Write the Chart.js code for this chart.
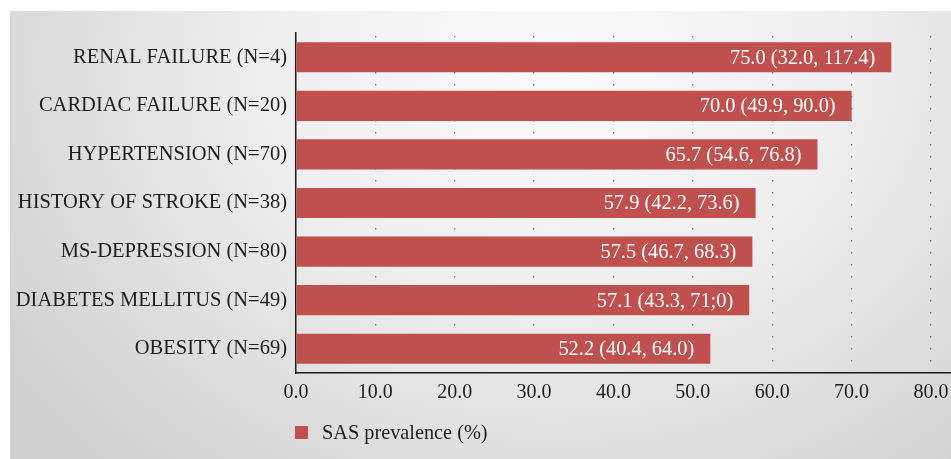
<!DOCTYPE html>
<html lang="en">
<head>
    <meta charset="UTF-8">
    <title>SAS prevalence by comorbidity</title>
    <script src="https://cdn.jsdelivr.net/npm/chart.js@4.4.0/dist/chart.umd.min.js"></script>
    <style>
        body {
            margin: 0;
            background: #fff;
            font-family: "Liberation Serif", serif;
        }
        #panel {
            position: absolute;
            left: 10px;
            top: 11px;
            width: 941px;
            height: 448px;
            background: radial-gradient(ellipse 70% 120% at 58% 12%, #fbfbfb 0%, #eeeeee 45%, #d1d0d0 100%);
        }
        #chartBox {
            position: absolute;
            left: 0;
            top: 0;
            width: 941px;
            height: 448px;
        }
        #legend {
            position: absolute;
            left: 285px;
            top: 410px;
            display: flex;
            align-items: center;
            font-size: 20.3px;
            color: #1e1e1e;
        }
        #legend .swatch {
            width: 13px;
            height: 13px;
            background: #C0504D;
            margin-right: 14px;
        }
    </style>
</head>
<body>
<div id="panel">
    <div id="chartBox"><canvas id="sasChart"></canvas></div>
    <div id="legend"><span class="swatch"></span><span>SAS prevalence (%)</span></div>
</div>

<script>
    // Data
    const categories = [
        'RENAL FAILURE (N=4)',
        'CARDIAC FAILURE (N=20)',
        'HYPERTENSION (N=70)',
        'HISTORY OF STROKE (N=38)',
        'MS-DEPRESSION (N=80)',
        'DIABETES MELLITUS (N=49)',
        'OBESITY (N=69)'
    ];
    const prevalence = [75.0, 70.0, 65.7, 57.9, 57.5, 57.1, 52.2];
    const ciLabels = [
        '75.0 (32.0, 117.4)',
        '70.0 (49.9, 90.0)',
        '65.7 (54.6, 76.8)',
        '57.9 (42.2, 73.6)',
        '57.5 (46.7, 68.3)',
        '57.1 (43.3, 71;0)',
        '52.2 (40.4, 64.0)'
    ];
    const xTicks = [0, 10, 20, 30, 40, 50, 60, 70, 80];

    const barColor = '#C0504D';
    const fontFamily = '"Liberation Serif", serif';

    // Writes the value + CI text inside each bar
    const barLabels = {
        id: 'barLabels',
        afterDatasetsDraw(chart) {
            const ctx = chart.ctx;
            const meta = chart.getDatasetMeta(0);
            ctx.save();
            ctx.font = '20.4px ' + fontFamily;
            ctx.fillStyle = '#ffffff';
            ctx.textAlign = 'right';
            ctx.textBaseline = 'middle';
            meta.data.forEach((bar, i) => {
                ctx.fillText(ciLabels[i], bar.x - 16, bar.y + 1);
            });
            ctx.restore();
        }
    };

    Chart.defaults.font.family = fontFamily;
    Chart.defaults.font.size = 20;
    Chart.defaults.color = '#1e1e1e';

    const ctx = document.getElementById('sasChart').getContext('2d');
    new Chart(ctx, {
        type: 'bar',
        data: {
            labels: categories,
            datasets: [{
                label: 'SAS prevalence (%)',
                data: prevalence,
                backgroundColor: barColor,
                borderWidth: 0,
                categoryPercentage: 1,
                barPercentage: 0.62
            }]
        },
        options: {
            indexAxis: 'y',
            responsive: true,
            maintainAspectRatio: false,
            animation: false,
            layout: {
                padding: { top: 22, left: 0, right: 0, bottom: 56 }
            },
            plugins: {
                legend: { display: false },
                tooltip: { enabled: false }
            },
            scales: {
                x: {
                    min: 0,
                    max: 82.52,
                    afterBuildTicks(scale) {
                        scale.ticks = xTicks.map(v => ({ value: v }));
                    },
                    afterFit(scale) {
                        scale.height = 30;
                        scale.paddingLeft = 0;
                        scale.paddingRight = 0;
                    },
                    ticks: {
                        padding: 8,
                        maxRotation: 0,
                        callback: v => v.toFixed(1)
                    },
                    grid: {
                        drawTicks: false,
                        lineWidth: 1.3,
                        color: c => c.index === 0 ? 'rgba(0,0,0,0)' : '#7a7a7a'
                    },
                    border: {
                        display: true,
                        color: '#1a1a1a',
                        width: 1.5,
                        dash: [1.5, 10.5],
                        dashOffset: 9
                    }
                },
                y: {
                    afterFit(scale) {
                        scale.width = 286;
                        scale.paddingTop = 0;
                        scale.paddingBottom = 0;
                    },
                    ticks: {
                        padding: 9,
                        font: { size: 20.5 }
                    },
                    grid: {
                        display: false,
                        drawTicks: false
                    },
                    border: {
                        display: true,
                        color: '#1a1a1a',
                        width: 1.5
                    }
                }
            }
        },
        plugins: [barLabels]
    });
</script>
</body>
</html>
